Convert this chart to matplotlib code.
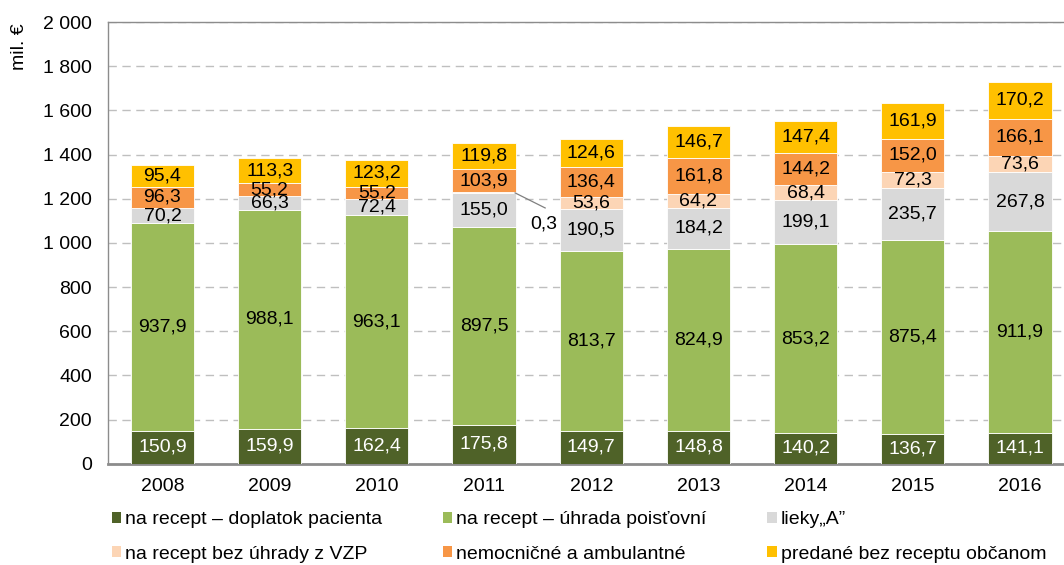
import matplotlib

matplotlib.use("Agg")
import matplotlib.pyplot as plt
import numpy as np
from matplotlib.patches import Patch

plt.rcParams["font.family"] = ["Liberation Sans", "DejaVu Sans"]

YEARS = ["2008", "2009", "2010", "2011", "2012", "2013", "2014", "2015", "2016"]
DOPLATOK = [150.9, 159.9, 162.4, 175.8, 149.7, 148.8, 140.2, 136.7, 141.1]
UHRADA = [937.9, 988.1, 963.1, 897.5, 813.7, 824.9, 853.2, 875.4, 911.9]
LIEKY_A = [70.2, 66.3, 72.4, 155.0, 190.5, 184.2, 199.1, 235.7, 267.8]
BEZ_UHRADY = [0.0, 0.0, 0.0, 0.3, 53.6, 64.2, 68.4, 72.3, 73.6]
NEMOCNICNE = [96.3, 55.2, 55.2, 103.9, 136.4, 161.8, 144.2, 152.0, 166.1]
BEZ_RECEPTU = [95.4, 113.3, 123.2, 119.8, 124.6, 146.7, 147.4, 161.9, 170.2]

SERIES = [
    ("na recept – doplatok pacienta", DOPLATOK, "#4f6228", "white"),
    ("na recept – úhrada poisťovní", UHRADA, "#9bbb59", "black"),
    ("lieky„A”", LIEKY_A, "#d9d9d9", "black"),
    ("na recept bez úhrady z VZP", BEZ_UHRADY, "#fcd5b5", "black"),
    ("nemocničné a ambulantné", NEMOCNICNE, "#f79646", "black"),
    ("predané bez receptu občanom", BEZ_RECEPTU, "#ffc000", "black"),
]

FS = 14


def fmt(v):
    return f"{v:.1f}".replace(".", ",")


fig = plt.figure(figsize=(10.64, 5.65), dpi=100)
ax = fig.add_axes([0.1015, 0.179, 0.8985, 0.782])

x = np.arange(len(YEARS))
bottom = np.zeros(len(YEARS))
for name, vals, color, tcolor in SERIES:
    vals = np.array(vals)
    ax.bar(x, vals, 0.59, bottom=bottom, color=color, edgecolor="white", linewidth=0.6, zorder=3)
    for i, v in enumerate(vals):
        if v >= 20:
            ax.text(x[i], bottom[i] + v / 2, fmt(v), ha="center", va="center",
                    fontsize=FS, color=tcolor, zorder=4)
    bottom += vals

# tiny 2011 value with a leader line
i = YEARS.index("2011")
y_small = DOPLATOK[i] + UHRADA[i] + LIEKY_A[i] + BEZ_UHRADY[i] / 2
ax.plot([x[i] + 0.29, x[i] + 0.57], [y_small - 2, y_small - 70], color="#808080", linewidth=0.9, zorder=4)
ax.text(x[i] + 0.56, y_small - 142, fmt(BEZ_UHRADY[i]), ha="center", va="center", fontsize=FS, zorder=4)

ax.set_xlim(-0.508, 8.41)
ax.set_ylim(0, 2000)
ax.set_yticks(range(0, 2001, 200))
ax.set_yticklabels([f"{v:,}".replace(",", " ") for v in range(0, 2001, 200)])
ax.set_xticks(x)
ax.set_xticklabels(YEARS)
ax.tick_params(axis="y", length=0, labelsize=FS, pad=11.5)
ax.tick_params(axis="x", length=0, labelsize=FS, pad=10)

ax.yaxis.grid(True, color="#bfbfbf", linestyle=(0, (6, 4)), linewidth=1.0, zorder=0)
ax.set_axisbelow(True)
for side in ["top", "left"]:
    ax.spines[side].set_color("#8c8c8c")
    ax.spines[side].set_linewidth(1.0)
ax.spines["bottom"].set_color("#8c8c8c")
ax.spines["bottom"].set_linewidth(2.0)
ax.spines["right"].set_visible(False)

fig.text(0.018, 0.917, "mil. €", rotation=90, ha="center", va="center", fontsize=FS)

handles = [Patch(facecolor=c, edgecolor="none") for _, _, c, _ in SERIES]
labels = [n for n, _, _, _ in SERIES]
order = [0, 3, 1, 4, 2, 5]
fig.legend([handles[k] for k in order], [labels[k] for k in order], ncol=3,
           loc="upper left", bbox_to_anchor=(0.105, 0.095), frameon=False, fontsize=FS,
           handlelength=0.5, handleheight=0.5, handletextpad=0.2, columnspacing=3.1,
           labelspacing=0.9, borderaxespad=0, borderpad=0)

fig.savefig("out.png", dpi=100)
